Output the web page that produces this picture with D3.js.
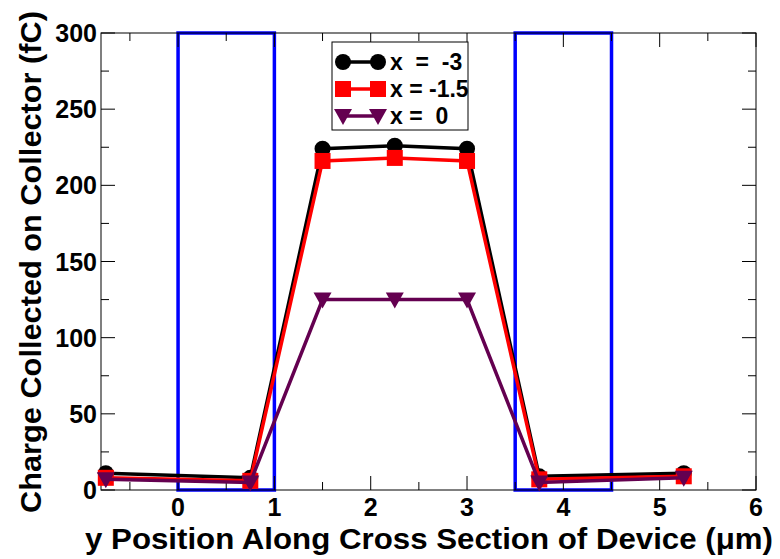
<!DOCTYPE html>
<html>
<head>
<meta charset="utf-8">
<script src="https://cdn.jsdelivr.net/npm/d3@7"></script>
<style>
body{margin:0;background:#fff;}
svg{display:block;font-family:"Liberation Sans",Arial,sans-serif;font-weight:bold;}
</style>
</head>
<body>
<svg id="chart" width="780" height="559"></svg>
<script>
const yPositions = [-0.75, 0.75, 1.5, 2.25, 3, 3.75, 5.25];
const seriesNames = ["x  =  -3", "x = -1.5", "x =  0"];
const chargeXm3 = [11, 8, 224, 226, 224, 9, 11];
const chargeXm15 = [8, 6, 216, 218, 216, 7, 9];
const chargeX0 = [7, 5, 125, 125, 125, 5, 8];
const seriesColors = ["#000000", "#ff0000", "#640050"];
const seriesMarkers = ["circle", "square", "triangle"];
const xTicks = [0, 1, 2, 3, 4, 5, 6];
const yTicks = [0, 50, 100, 150, 200, 250, 300];
const boxes = [[0, 1], [3.5, 4.5]];

const svg = d3.select("#chart");
const L = 101, R = 756, T = 33, B = 490;
const x = d3.scaleLinear().domain([-0.8, 6]).range([L, R]);
const y = d3.scaleLinear().domain([0, 300]).range([B, T]);

// blue boxes
svg.append("g").selectAll("rect").data(boxes).join("rect")
  .attr("x", d => x(d[0])).attr("width", d => x(d[1]) - x(d[0]))
  .attr("y", y(300)).attr("height", y(0) - y(300))
  .attr("fill", "none").attr("stroke", "#0000ff").attr("stroke-width", 3.5);

// frame
svg.append("rect").attr("x", L).attr("y", T).attr("width", R - L).attr("height", B - T)
  .attr("fill", "none").attr("stroke", "#000").attr("stroke-width", 1);

// ticks (inward, mirrored)
const xMinor = d3.range(-0.5, 6.01, 0.5).filter(v => Math.abs(v - Math.round(v)) > 0.01);
const yMinor = d3.range(25, 300, 50);
const tickG = svg.append("g").attr("stroke", "#000").attr("stroke-width", 1);
function xt(vals, len) {
  vals.forEach(v => {
    tickG.append("line").attr("x1", x(v)).attr("x2", x(v)).attr("y1", B).attr("y2", B - len);
    tickG.append("line").attr("x1", x(v)).attr("x2", x(v)).attr("y1", T).attr("y2", T + len);
  });
}
function yt(vals, len) {
  vals.forEach(v => {
    tickG.append("line").attr("y1", y(v)).attr("y2", y(v)).attr("x1", L).attr("x2", L + len);
    tickG.append("line").attr("y1", y(v)).attr("y2", y(v)).attr("x1", R).attr("x2", R - len);
  });
}
xt(xTicks, 14); xt(xMinor, 8); yt(yTicks, 14); yt(yMinor, 8);

// tick labels
svg.append("g").selectAll("text").data(xTicks).join("text")
  .attr("x", d => x(d)).attr("y", 516).attr("text-anchor", "middle")
  .attr("font-size", 25).text(d => d);
svg.append("g").selectAll("text").data(yTicks).join("text")
  .attr("x", 97).attr("y", d => y(d) + 9).attr("text-anchor", "end")
  .attr("font-size", 25).text(d => d);

// axis titles
svg.append("text").attr("x", 85).attr("y", 549)
  .attr("font-size", 29).attr("textLength", 688).attr("lengthAdjust", "spacingAndGlyphs")
  .text("y Position Along Cross Section of Device (μm)");
svg.append("text").attr("transform", "translate(41,513) rotate(-90)")
  .attr("font-size", 30).attr("textLength", 502).attr("lengthAdjust", "spacingAndGlyphs")
  .text("Charge Collected on Collector (fC)");

// series
const seriesData = [chargeXm3, chargeXm15, chargeX0];
const line = d3.line().x(d => x(d[0])).y(d => y(d[1]));
function marker(g, type, cx, cy, color) {
  if (type === "circle") g.append("circle").attr("cx", cx).attr("cy", cy).attr("r", 8).attr("fill", color);
  else if (type === "square") g.append("rect").attr("x", cx - 8).attr("y", cy - 8).attr("width", 16).attr("height", 16).attr("fill", color);
  else g.append("path").attr("d", `M${cx - 9},${cy - 7}L${cx + 9},${cy - 7}L${cx},${cy + 9}Z`).attr("fill", color);
}
seriesData.forEach((vals, i) => {
  const pts = yPositions.map((p, j) => [p, vals[j]]);
  const g = svg.append("g");
  g.append("path").attr("d", line(pts)).attr("fill", "none")
    .attr("stroke", seriesColors[i]).attr("stroke-width", 3.5);
  pts.forEach(p => marker(g, seriesMarkers[i], x(p[0]), y(p[1]), seriesColors[i]));
});

// legend
const lg = svg.append("g");
lg.append("rect").attr("x", 332).attr("y", 42).attr("width", 136).attr("height", 88)
  .attr("fill", "#fff").attr("stroke", "#000").attr("stroke-width", 1);
seriesNames.forEach((n, i) => {
  const cy = 62 + i * 27;
  lg.append("line").attr("x1", 343).attr("x2", 378).attr("y1", cy).attr("y2", cy)
    .attr("stroke", seriesColors[i]).attr("stroke-width", 3.5);
  marker(lg, seriesMarkers[i], 343, cy, seriesColors[i]);
  marker(lg, seriesMarkers[i], 378, cy, seriesColors[i]);
  lg.append("text").attr("x", 390).attr("y", cy + 8).attr("font-size", 23)
    .style("white-space", "pre").text(n);
});
</script>
</body>
</html>
